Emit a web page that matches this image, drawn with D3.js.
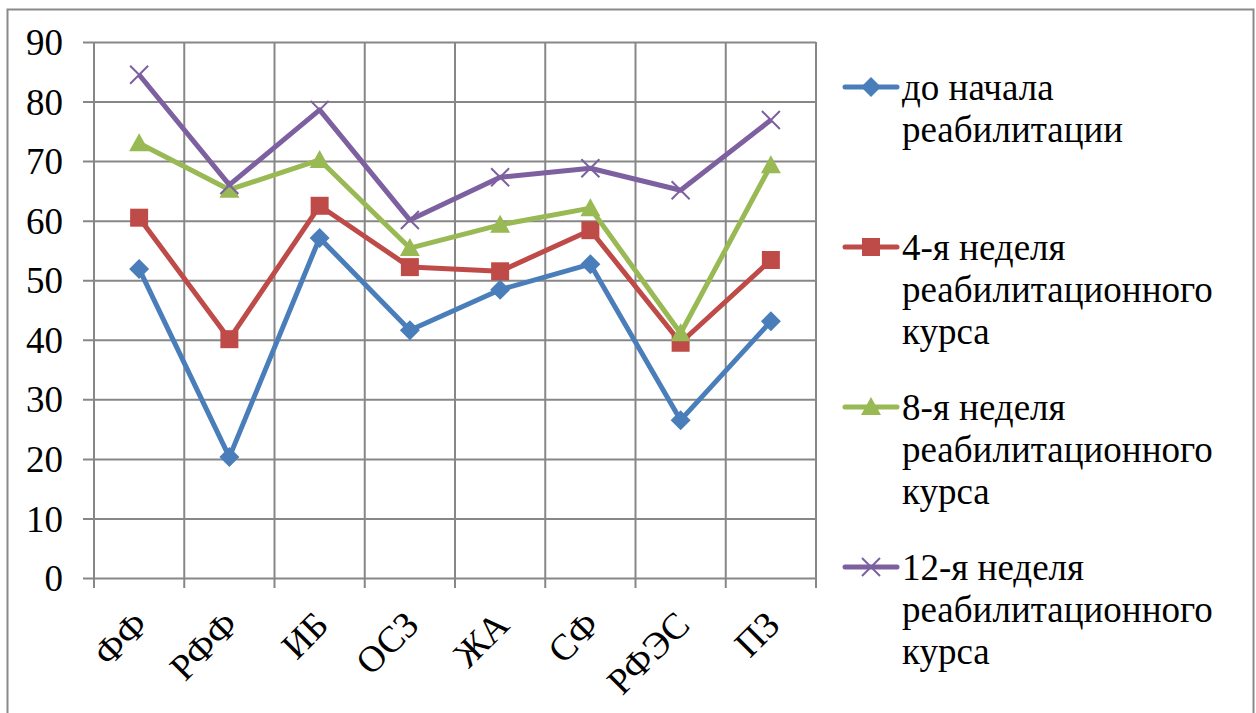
<!DOCTYPE html>
<html>
<head>
<meta charset="utf-8">
<script src="https://cdn.jsdelivr.net/npm/d3@7"></script>
<style>
  body { margin: 0; background: #fff; }
</style>
</head>
<body>
<div id="chart"></div>
<script>
// categories on the x axis
const categories = ["ФФ", "РФФ", "ИБ", "ОСЗ", "ЖА", "СФ", "РФЭС", "ПЗ"]

// one array per series
const beforeRehab = [51.9, 20.3, 57.1, 41.6, 48.4, 52.7, 26.5, 43.1]
const week4 = [60.5, 40.1, 62.5, 52.2, 51.5, 58.4, 39.5, 53.4]
const week8 = [73.0, 65.2, 70.2, 55.4, 59.3, 62.1, 41.1, 69.3]
const week12 = [84.5, 66.0, 78.6, 60.1, 67.3, 68.8, 65.1, 76.9]

// legend labels (split into lines like in the picture)
const seriesLabels = [
  ["до начала", "реабилитации"],
  ["4-я неделя", "реабилитационного", "курса"],
  ["8-я неделя", "реабилитационного", "курса"],
  ["12-я неделя", "реабилитационного", "курса"]
]

const yTicks = [0, 10, 20, 30, 40, 50, 60, 70, 80, 90]

const series = [
  { values: beforeRehab, color: "#4a7ebb", marker: "diamond" },
  { values: week4, color: "#be4b48", marker: "square" },
  { values: week8, color: "#98b954", marker: "triangle" },
  { values: week12, color: "#7d60a0", marker: "x" }
]

const serif = "'Liberation Serif', 'Times New Roman', serif"

const width = 1256
const height = 713
const plot = { left: 94, right: 816, top: 42, bottom: 578 }

const svg = d3.select("div#chart").append("svg")
  .attr("width", width).attr("height", height)

// outer frame
svg.append("rect")
  .attr("x", 7.5).attr("y", 9.5)
  .attr("width", 1246).attr("height", 720)
  .attr("fill", "none").attr("stroke", "#8a8a8a").attr("stroke-width", 2)

const xScale = d3.scaleBand().domain(categories).range([plot.left, plot.right])
const yScale = d3.scaleLinear().domain([0, 90]).range([plot.bottom, plot.top])

// horizontal grid + y ticks
const yAxis = d3.axisLeft(yScale).tickValues(yTicks)
  .tickSize(plot.right - plot.left + 11).tickPadding(20)
svg.append("g")
  .attr("class", "axis-y")
  .attr("transform", "translate(" + plot.right + ",0)")
  .call(yAxis)
  .attr("font-family", serif)
  .attr("font-size", 37)
  .call(g => g.select(".domain").remove())
  .call(g => g.selectAll("line").attr("stroke", "#878787").attr("stroke-width", 2))
  .call(g => g.selectAll("text").attr("fill", "#000").attr("dy", "0.34em"))

// vertical grid at category boundaries
const boundaries = categories.map(c => xScale(c)).concat([plot.right])
svg.append("g").selectAll("line").data(boundaries).enter().append("line")
  .attr("x1", d => d).attr("x2", d => d)
  .attr("y1", plot.top).attr("y2", plot.bottom + 10)
  .attr("stroke", "#878787").attr("stroke-width", 2)

// rotated category labels
svg.append("g").selectAll("text").data(categories).enter().append("text")
  .attr("text-anchor", "end")
  .attr("font-family", serif)
  .attr("font-size", 37)
  .attr("transform", d => "translate(" + (xScale(d) + xScale.bandwidth() / 2 + 11) + ",627) rotate(-45)")
  .text(d => d)

function markerPath(type) {
  if (type === "diamond") return "M0,-10L10,0L0,10L-10,0Z"
  if (type === "square") return "M-9,-9H9V9H-9Z"
  if (type === "triangle") return "M0,-10L10,8L-10,8Z"
  return "M-9,-9L9,9M9,-9L-9,9"
}

function drawMarker(g, type, color) {
  const p = g.append("path").attr("d", markerPath(type))
  if (type === "x") {
    p.attr("fill", "none").attr("stroke", color).attr("stroke-width", 2)
  } else {
    p.attr("fill", color).attr("stroke", "none")
  }
}

const line = d3.line()
  .x((d, i) => xScale(categories[i]) + xScale.bandwidth() / 2)
  .y(d => yScale(d))

series.forEach(function (s) {
  const g = svg.append("g")
  g.append("path").datum(s.values)
    .attr("d", line)
    .attr("fill", "none").attr("stroke", s.color)
    .attr("stroke-width", 5).attr("stroke-linejoin", "round")
  s.values.forEach(function (v, i) {
    const m = g.append("g")
      .attr("transform", "translate(" + (xScale(categories[i]) + xScale.bandwidth() / 2) + "," + yScale(v) + ")")
    drawMarker(m, s.marker, s.color)
  })
})

// legend
series.forEach(function (s, i) {
  const baseline = 100 + i * 160
  const g = svg.append("g")
  g.append("line")
    .attr("x1", 845).attr("x2", 897)
    .attr("y1", baseline - 13).attr("y2", baseline - 13)
    .attr("stroke", s.color).attr("stroke-width", 5).attr("stroke-linecap", "round")
  const m = g.append("g").attr("transform", "translate(871," + (baseline - 13) + ")")
  drawMarker(m, s.marker, s.color)
  seriesLabels[i].forEach(function (t, j) {
    g.append("text")
      .attr("x", 902).attr("y", baseline + j * 42)
      .attr("font-family", serif)
      .attr("font-size", 37)
      .text(t)
  })
})
</script>
</body>
</html>
